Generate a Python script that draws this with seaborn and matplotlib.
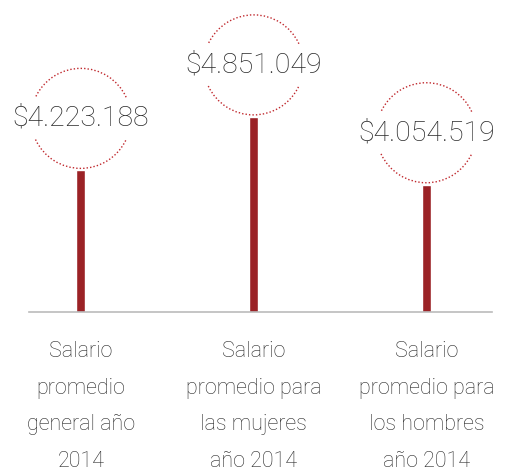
import matplotlib
matplotlib.use('Agg')
import matplotlib.pyplot as plt
import matplotlib.transforms as mtransforms
from matplotlib.patches import Arc
import seaborn as sns
import pandas as pd

# --- Datos ---
categorias = ['Salario\npromedio\ngeneral año\n2014',
              'Salario\npromedio para\nlas mujeres\naño 2014',
              'Salario\npromedio para\nlos hombres\naño 2014']
salarios = [4223188, 4851049, 4054519]
etiquetas = ['$4.223.188', '$4.851.049', '$4.054.519']

df = pd.DataFrame({'categoria': categorias, 'salario': salarios})

color_barra = '#9b2226'
color_circulo = '#c0282d'

sns.set_style('white')
plt.rcParams['font.family'] = ['Roboto', 'DejaVu Sans']

fig = plt.figure(figsize=(5.13, 4.72), dpi=100)
# baseline at y=312px, axes from x=29 to x=492
ax = fig.add_axes([29 / 513, 160 / 472, 463 / 513, 312 / 472])

sns.barplot(data=df, x='categoria', y='salario', color=color_barra,
            width=0.052, saturation=1, ax=ax)

ax.set_xlim(-0.30, 2.38)
ax.set_ylim(2561000, 2561000 + 312 / 85.2 * 1e6)
sns.despine(ax=ax, left=True, top=True, right=True)
ax.spines['bottom'].set_color('#bbbbbb')
ax.spines['bottom'].set_linewidth(1.2)
ax.set_yticks([])
ax.set_xlabel('')
ax.set_ylabel('')
ax.tick_params(axis='x', length=0, pad=21)
for t in ax.get_xticklabels():
    t.set_fontsize(15.5)
    t.set_color('#2a2a2a')
    t.set_fontweight('light')
    t.set_linespacing(1.97)
    t.set_verticalalignment('top')

# circulos punteados y valores
r_px = 50
for i, (v, lab) in enumerate(zip(salarios, etiquetas)):
    trans = fig.dpi_scale_trans + mtransforms.ScaledTranslation(i, v, ax.transData)
    cy = (r_px + 2) / 100
    d = 2 * r_px / 100
    for t1, t2 in [(25, 155), (205, 335)]:
        arc = Arc((0, cy), d, d, theta1=t1, theta2=t2, transform=trans,
                  color=color_circulo, lw=1.0, ls=(0, (1, 1.5)), clip_on=False)
        ax.add_patch(arc)
    ax.annotate(lab, xy=(i, v), xytext=(0, (r_px + 2) * 0.72),
                textcoords='offset points', ha='center', va='center',
                fontsize=20.5, color='#2a2a2a', fontweight='light',
                annotation_clip=False)

fig.savefig('out.png', dpi=100)
